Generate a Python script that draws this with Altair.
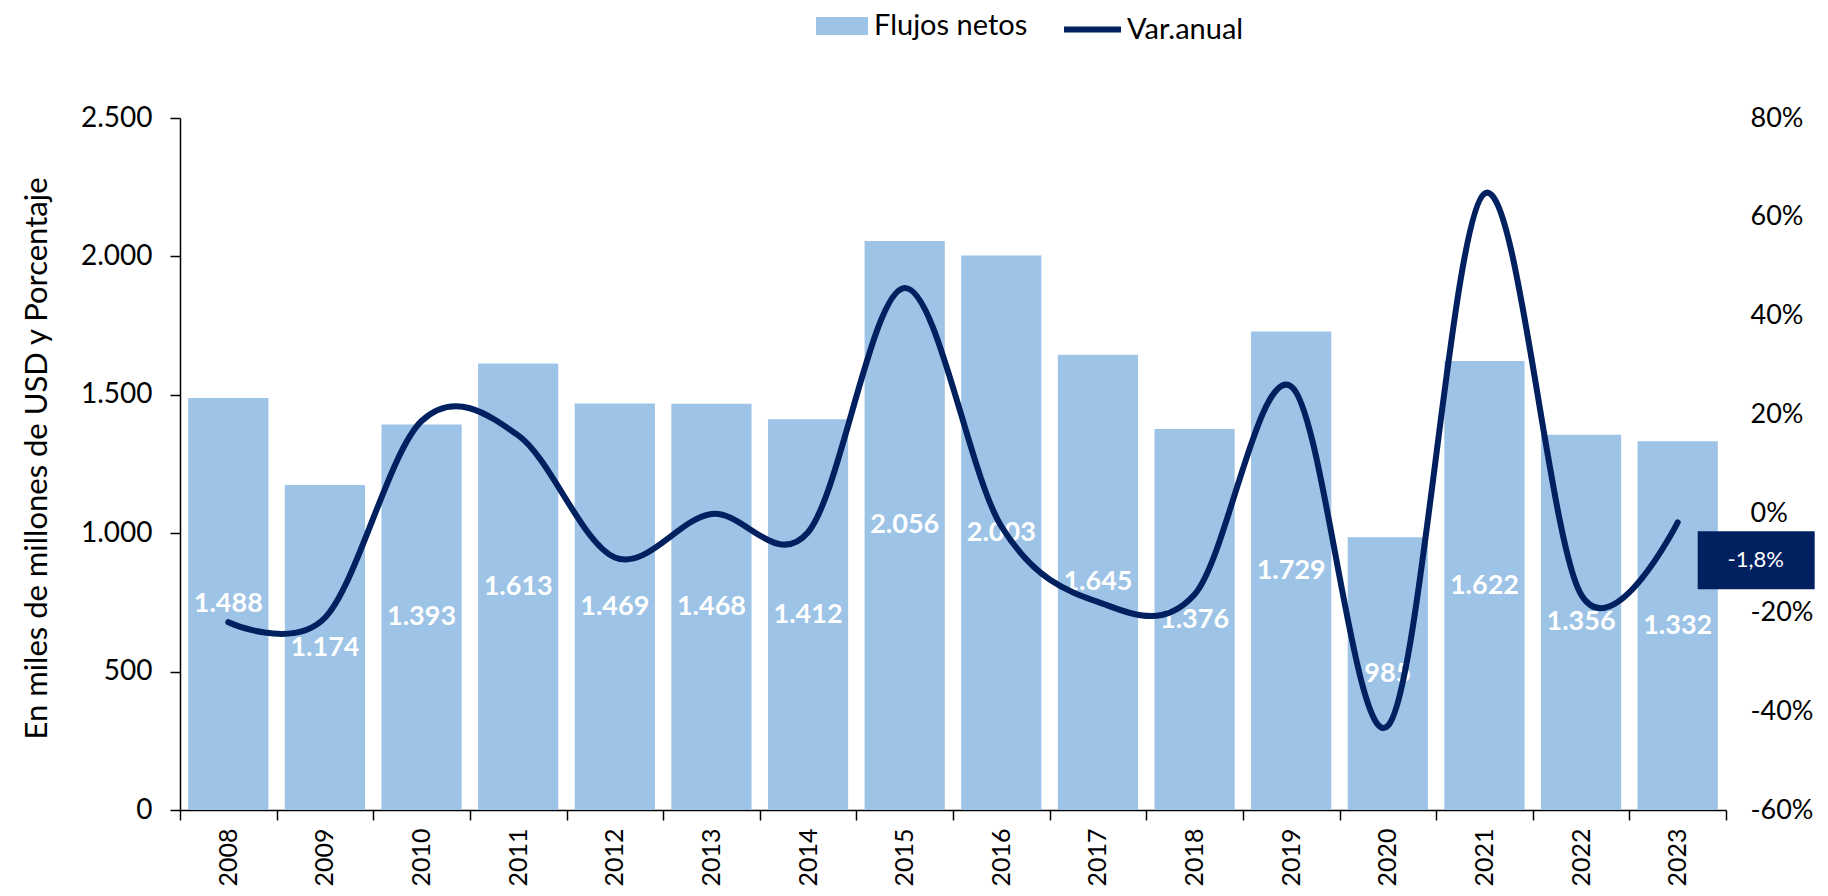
import altair as alt
import pandas as pd

years = [str(y) for y in range(2008, 2024)]
flujos = [1488, 1174, 1393, 1613, 1469, 1468, 1412, 2056, 2003, 1645, 1376, 1729, 985, 1622, 1356, 1332]
var_anual = [-22.0, -21.1, 18.7, 15.8, -8.9, -0.1, -3.8, 45.6, -2.6, -17.9, -16.4, 25.7, -43.0, 64.7, -16.4, -1.8]
last_label = "-1,8%"
left_ticks = [0, 500, 1000, 1500, 2000, 2500]
right_ticks = [-60, -40, -20, 0, 20, 40, 60, 80]

BAR = "#9DC3E6"
NAVY = "#002060"

df = pd.DataFrame({
    "year": years,
    "flujos": flujos,
    "flujos_txt": [f"{v:,}".replace(",", ".") for v in flujos],
    "var": var_anual,
    "serie_b": "Flujos netos",
    "serie_l": "Var.anual",
})
df_last = df.tail(1).assign(lbl=last_label)

W, H = 1546, 692

x_enc = alt.X(
    "year:O",
    scale=alt.Scale(paddingInner=0, paddingOuter=0),
    axis=alt.Axis(
        title=None, labelAngle=270, labelFont="Lato", labelFontSize=25,
        labelColor="black", domainColor="black", tickColor="black", tickSize=10,
        tickBand="extent", labelPadding=8, domainWidth=1.5, tickWidth=1.5, grid=False,
    ),
)

left_axis = alt.Axis(
    values=left_ticks, labelExpr="replace(format(datum.value, ','), ',', '.')",
    labelFont="Lato", labelFontSize=28, labelColor="black",
    domainColor="black", tickColor="black", tickSize=10, labelPadding=18,
    domainWidth=1.5, tickWidth=1.5, grid=False,
    title="En miles de millones de USD y Porcentaje", titleFont="Lato",
    titleFontSize=31, titleFontWeight="normal", titleColor="black",
    titleAngle=270, titleX=-143, titleY=H / 2 - 6, titleAlign="center",
    titleBaseline="middle",
)
left_scale = alt.Scale(domain=[0, 2500], nice=False)

y_right_axis = alt.Axis(
    orient="right", values=right_ticks, labelExpr="datum.value + '%'",
    labelFont="Lato", labelFontSize=27, labelColor="black",
    domain=False, ticks=False, tickSize=0, labelPadding=24, grid=False, title=None,
    labelLimit=300,
)
y_right_scale = alt.Scale(domain=[-60, 80], nice=False)

bars = alt.Chart(df).mark_bar(opacity=1, width=alt.RelativeBandSize(0.83)).encode(
    x=x_enc,
    y=alt.Y("flujos:Q", scale=left_scale, axis=left_axis),
    color=alt.Color(
        "serie_b:N",
        scale=alt.Scale(domain=["Flujos netos"], range=[BAR]),
        legend=alt.Legend(
            title=None, orient="none", legendX=636, legendY=-118,
            symbolType="M-1,-0.35L1,-0.35L1,0.35L-1,0.35Z",
            symbolSize=2704, symbolStrokeWidth=0, labelFont="Lato",
            labelFontSize=29, labelColor="black", labelOffset=6, padding=0,
            labelLimit=400,
        ),
    ),
)

bar_labels = alt.Chart(df).transform_calculate(mid="datum.flujos / 2").mark_text(
    color="white", font="Lato", fontWeight="bold", fontSize=27, baseline="middle",
).encode(
    x=x_enc,
    y=alt.Y("mid:Q", scale=left_scale, axis=left_axis),
    text="flujos_txt:N",
)

line = alt.Chart(df).mark_line(
    interpolate="cardinal", strokeWidth=6, strokeCap="round",
).encode(
    x=x_enc,
    y=alt.Y("var:Q", scale=y_right_scale, axis=y_right_axis),
    stroke=alt.Stroke(
        "serie_l:N",
        scale=alt.Scale(domain=["Var.anual"], range=[NAVY]),
        legend=alt.Legend(
            title=None, orient="none", legendX=881, legendY=-120,
            symbolType="stroke", symbolSize=3249, symbolStrokeWidth=6,
            labelFont="Lato", labelFontSize=29, labelColor="black",
            labelOffset=3, padding=0, labelLimit=400,
        ),
    ),
)

box = alt.Chart(df_last).mark_point(
    shape="M0.4,0.18L2.74,0.18L2.74,1.34L0.4,1.34Z", size=10000,
    filled=True, color=NAVY, opacity=1, strokeWidth=0,
).encode(
    x=x_enc,
    y=alt.Y("var:Q", scale=y_right_scale, axis=y_right_axis),
)

box_text = alt.Chart(df_last).mark_text(
    color="white", font="Lato", fontSize=22, dx=78, dy=38, baseline="middle",
).encode(
    x=x_enc,
    y=alt.Y("var:Q", scale=y_right_scale, axis=y_right_axis),
    text="lbl:N",
)

left_layer = alt.layer(bars, bar_labels)
right_layer = alt.layer(line, box, box_text)

chart = alt.layer(left_layer, right_layer).resolve_scale(
    y="independent", color="independent", stroke="independent"
).properties(
    width=W, height=H,
    autosize=alt.AutoSizeParams(type="none"),
    padding={"left": 172, "top": 110, "right": 94, "bottom": 78},
    background="white",
).configure_view(stroke=None)

chart.save("out.html", embed_options={"renderer": "svg", "actions": False})
